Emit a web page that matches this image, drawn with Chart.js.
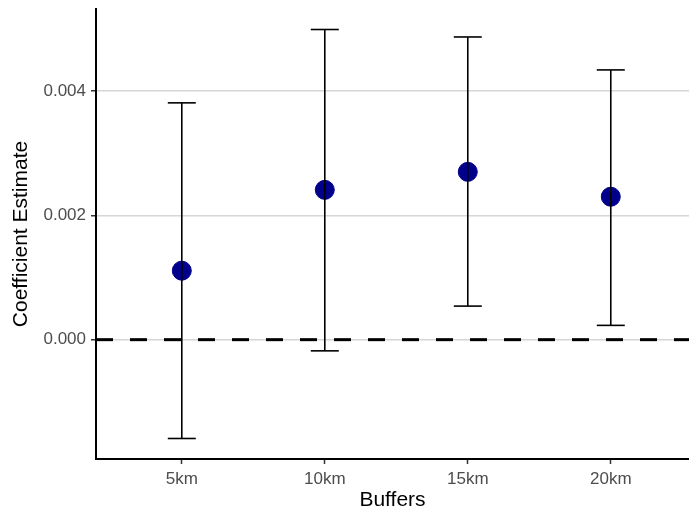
<!DOCTYPE html>
<html>
<head>
<meta charset="utf-8">
<script src="https://cdn.jsdelivr.net/npm/chart.js@4"></script>
<style>
  html, body { margin: 0; padding: 0; background: #fff; }
  #wrap { width: 689px; height: 513px; }
</style>
</head>
<body>
<div id="wrap"><canvas id="chart"></canvas></div>
<script>
// buffer sizes and the model estimates
const categories = ["5km", "10km", "15km", "20km"];
const estimates = [0.00111, 0.00241, 0.00270, 0.00230];
const lower = [-0.00159, -0.00018, 0.00054, 0.00023];
const upper = [0.00381, 0.00499, 0.00487, 0.00434];
const yTicks = [0, 0.002, 0.004];
const xRange = [0.4, 4.547];
const yRange = [-0.00192, 0.00532];

const font = "'Liberation Sans', Arial, sans-serif";

// one line per error bar, the caps come from the 'line' point style
const errorSets = categories.map((c, i) => ({
  type: "line",
  data: [{ x: i + 1, y: lower[i] }, { x: i + 1, y: upper[i] }],
  borderColor: "#000",
  borderWidth: 1.6,
  pointStyle: "line",
  pointRadius: 14,
  pointBorderWidth: 1.6,
  pointBorderColor: "#000",
  pointHoverRadius: 14
}));

const pointSet = {
  type: "scatter",
  data: estimates.map((v, i) => ({ x: i + 1, y: v })),
  backgroundColor: "#00008b",
  borderColor: "#00008b",
  pointRadius: 9.5,
  pointHoverRadius: 9.5
};

const zeroLine = {
  type: "line",
  data: xRange.map(x => ({ x: x, y: 0 })),
  borderColor: "#000",
  borderWidth: 3,
  borderDash: [17, 17],
  pointRadius: 0
};

new Chart(document.getElementById("chart"), {
  type: "scatter",
  data: { datasets: [...errorSets, pointSet, zeroLine] },
  options: {
    responsive: true,
    maintainAspectRatio: false,
    devicePixelRatio: 1,
    animation: false,
    layout: { autoPadding: false, padding: { top: 9, right: 0, bottom: 0, left: 0 } },
    plugins: { legend: { display: false }, tooltip: { enabled: false } },
    scales: {
      x: {
        type: "linear",
        min: xRange[0],
        max: xRange[1],
        afterBuildTicks: s => { s.ticks = categories.map((c, i) => ({ value: i + 1 })); },
        afterFit: s => { s.height = 54; s.paddingLeft = 0; s.paddingRight = 0; },
        ticks: {
          callback: v => categories[v - 1],
          color: "#4d4d4d",
          font: { family: font, size: 17 },
          padding: 5,
          maxRotation: 0
        },
        grid: { drawOnChartArea: false, tickLength: 5, tickColor: "#333", tickWidth: 1.5 },
        border: { color: "#000", width: 2 },
        title: {
          display: true,
          text: "Buffers",
          color: "#000",
          font: { family: font, size: 21 },
          padding: { top: 0, bottom: 0 }
        }
      },
      y: {
        min: yRange[0],
        max: yRange[1],
        afterBuildTicks: s => { s.ticks = yTicks.map(v => ({ value: v })); },
        afterFit: s => { s.width = 96; s.paddingTop = 0; s.paddingBottom = 0; },
        ticks: {
          callback: v => v.toFixed(3),
          color: "#4d4d4d",
          font: { family: font, size: 17 },
          padding: 5
        },
        grid: { color: "#d6d6d6", lineWidth: 1.5, tickLength: 5, tickColor: "#333", tickWidth: 1.5 },
        border: { color: "#000", width: 2 },
        title: {
          display: true,
          text: "Coefficient Estimate",
          color: "#000",
          font: { family: font, size: 21 },
          padding: { top: 9, bottom: 0 }
        }
      }
    }
  }
});
</script>
</body>
</html>
